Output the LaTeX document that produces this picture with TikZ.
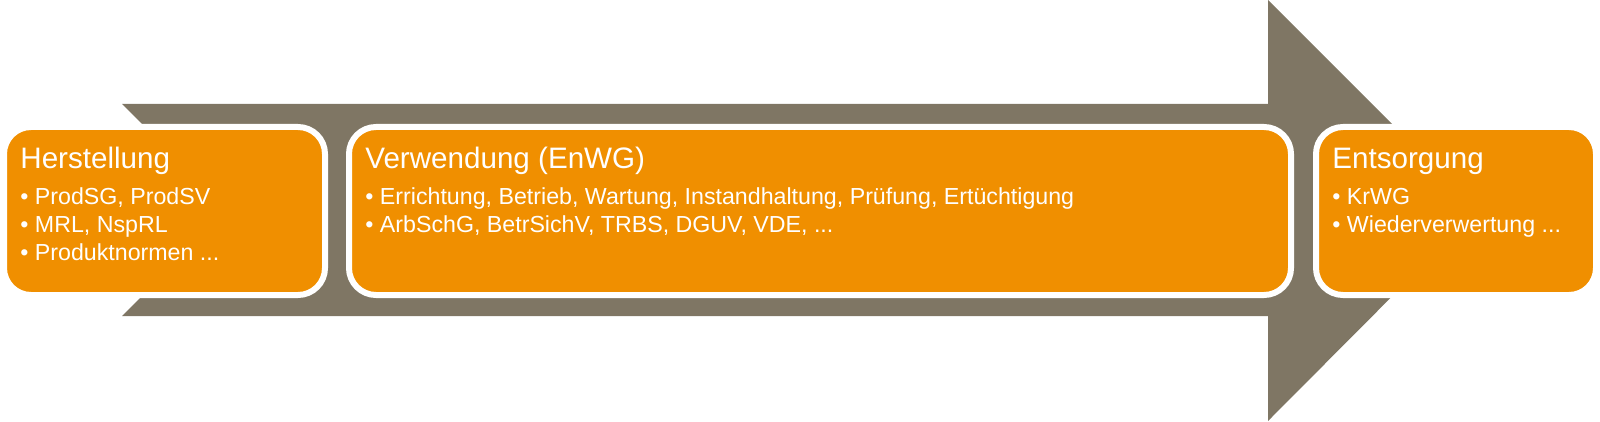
\documentclass[tikz,border=0pt]{standalone}
\usepackage{fontspec}
\setmainfont{Liberation Sans}
\definecolor{arrowgray}{RGB}{127,118,100}
\definecolor{boxorange}{RGB}{240,143,0}

\begin{document}
\begin{tikzpicture}
[x=0.5pt,y=-0.5pt,
phase/.style={draw=white,line width=3pt,fill=boxorange,rounded corners=13.5pt,inner sep=0pt,minimum height=84pt},
title/.style={text=white,inner sep=0pt,anchor=base west,font=\fontsize{14.8}{17}\selectfont},
bullet/.style={text=white,inner sep=0pt,anchor=base west,font=\fontsize{11.6}{13}\selectfont},]

\useasboundingbox (0,0) rectangle (1600,422);

%Big arrow behind the phases
\fill[arrowgray] (122,104) -- (1268,104) -- (1268,0) -- (1478,210) -- (1268,421)
  -- (1268,316) -- (122,316) -- (228,210) -- cycle;

%Phase boxes
\node (herst) at (164.5,211)[phase,minimum width=160.5pt] {};
\node (verw) at (820,211)[phase,minimum width=471pt] {};
\node (entsorg) at (1456,211)[phase,minimum width=140pt] {};

%Herstellung
\node (hersttitle) at ([shift={(9.5pt,-22.5pt)}]herst.north west)[title] {Herstellung};
\node (herstA) at ([shift={(9.5pt,-40.5pt)}]herst.north west)[bullet] {• ProdSG, ProdSV};
\node (herstB) at ([shift={(9.5pt,-54.5pt)}]herst.north west)[bullet] {• MRL, NspRL};
\node (herstC) at ([shift={(9.5pt,-68.5pt)}]herst.north west)[bullet] {• Produktnormen ...};

%Verwendung
\node (verwtitle) at ([shift={(9.5pt,-22.5pt)}]verw.north west)[title] {Verwendung (EnWG)};
\node (verwA) at ([shift={(9.5pt,-40.5pt)}]verw.north west)[bullet] {• Errichtung, Betrieb, Wartung, Instandhaltung, Prüfung, Ertüchtigung};
\node (verwB) at ([shift={(9.5pt,-54.5pt)}]verw.north west)[bullet] {• ArbSchG, BetrSichV, TRBS, DGUV, VDE, ...};

%Entsorgung
\node (entsorgtitle) at ([shift={(9.5pt,-22.5pt)}]entsorg.north west)[title] {Entsorgung};
\node (entsorgA) at ([shift={(9.5pt,-40.5pt)}]entsorg.north west)[bullet] {• KrWG};
\node (entsorgB) at ([shift={(9.5pt,-54.5pt)}]entsorg.north west)[bullet] {• Wiederverwertung ...};

\end{tikzpicture}
\end{document}
